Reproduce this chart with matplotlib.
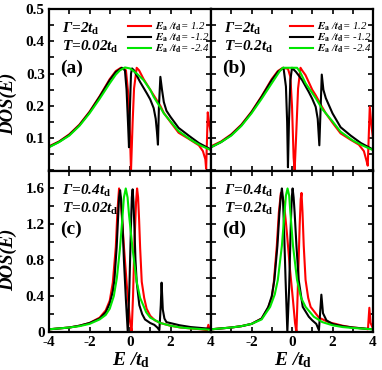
import matplotlib
matplotlib.use("Agg")
import matplotlib.pyplot as plt
from matplotlib.ticker import MultipleLocator, FixedLocator, FixedFormatter
from matplotlib.font_manager import FontProperties

plt.rcParams['font.family'] = 'Liberation Serif'
plt.rcParams['font.weight'] = 'bold'
plt.rcParams['mathtext.fontset'] = 'custom'
plt.rcParams['mathtext.it'] = 'Liberation Serif:italic:bold'
plt.rcParams['mathtext.rm'] = 'Liberation Serif:bold'
plt.rcParams['mathtext.bf'] = 'Liberation Serif:bold'
plt.rcParams['axes.unicode_minus'] = False

RED = '#ff0000'
BLACK = '#000000'
GREEN = '#00e600'

legend_labels = [r'$E_{\rm a}$ /$t_{\rm d}$= 1.2', r'$E_{\rm a}$ /$t_{\rm d}$= -1.2', r'$E_{\rm a}$ /$t_{\rm d}$= -2.4']
gamma_labels = [r'Γ=2$t_{\rm d}$', r'Γ=2$t_{\rm d}$', r'Γ=0.4$t_{\rm d}$', r'Γ=0.4$t_{\rm d}$']
temp_labels = [r'T=0.02$t_{\rm d}$', r'T=0.2$t_{\rm d}$', r'T=0.02$t_{\rm d}$', r'T=0.2$t_{\rm d}$']
panel_labels = ['(a)', '(b)', '(c)', '(d)']

# ---- panel (a): Gamma=2, T=0.02 ----
e_a_red = [-4, -3.5, -3, -2.5, -2, -1.5, -1, -0.7, -0.45, -0.3, -0.2, -0.08, 0.0, 0.05, 0.13, 0.2, 0.33,
           0.45, 0.67, 1.0, 1.17, 1.5, 1.67, 2, 2.4, 2.9, 3.4, 3.6, 3.72, 3.76, 3.84, 3.92, 4]
dos_a_red = [0.075, 0.09, 0.112, 0.142, 0.182, 0.23, 0.283, 0.308, 0.318, 0.316, 0.31, 0.233, 0.109, 0.0, 0.15,
             0.254, 0.318, 0.31, 0.283, 0.25, 0.233, 0.2, 0.178, 0.15, 0.117, 0.098, 0.078, 0.06, 0.035, 0.005,
             0.18, 0.14, 0.115]
e_a_black = [-4, -3.5, -3, -2.5, -2, -1.5, -1, -0.7, -0.4, -0.25, -0.17, -0.1, -0.05, 0.0, 0.05, 0.1, 0.2,
             0.5, 0.83, 1.0, 1.17, 1.27, 1.33, 1.38, 1.43, 1.5, 1.58, 1.67, 1.8, 2, 2.4, 2.9, 3.4, 4]
dos_a_black = [0.073, 0.089, 0.11, 0.14, 0.18, 0.228, 0.28, 0.305, 0.318, 0.31, 0.25, 0.15, 0.072, 0.2, 0.3,
               0.316, 0.31, 0.274, 0.239, 0.22, 0.193, 0.16, 0.12, 0.08, 0.2, 0.29, 0.25, 0.212, 0.185, 0.166,
               0.132, 0.108, 0.085, 0.065]
e_a_green = [-4, -3.5, -3, -2.5, -2, -1.5, -1, -0.7, -0.5, -0.25, 0, 0.3, 0.67, 1.0, 1.17, 1.5, 1.67, 2,
             2.4, 3, 3.5, 4]
dos_a_green = [0.072, 0.088, 0.108, 0.138, 0.177, 0.222, 0.27, 0.297, 0.31, 0.319, 0.316, 0.302, 0.28, 0.25,
               0.228, 0.195, 0.177, 0.152, 0.122, 0.095, 0.077, 0.063]

# ---- panel (b): Gamma=2, T=0.2 ----
e_b_red = [-4, -3.5, -3, -2.5, -2, -1.5, -1, -0.7, -0.45, -0.2, -0.08, 0.0, 0.08, 0.13, 0.2, 0.3, 0.42, 0.5,
           0.67, 1.0, 1.17, 1.5, 1.67, 2, 2.4, 2.9, 3.3, 3.55, 3.68, 3.74, 3.84, 3.92, 4]
dos_b_red = [0.075, 0.09, 0.112, 0.142, 0.182, 0.23, 0.283, 0.308, 0.318, 0.315, 0.29, 0.2, 0.04, 0.0, 0.1,
             0.254, 0.318, 0.31, 0.295, 0.25, 0.233, 0.195, 0.177, 0.148, 0.115, 0.095, 0.08, 0.06, 0.03, 0.015,
             0.197, 0.14, 0.1]
e_b_black = [-4, -3.5, -3, -2.5, -2, -1.5, -1, -0.7, -0.42, -0.3, -0.24, -0.2, -0.15, -0.08, 0.0, 0.2, 0.5,
             0.83, 1.0, 1.17, 1.27, 1.35, 1.47, 1.55, 1.67, 2, 2.4, 2.9, 3.4, 4]
dos_b_black = [0.072, 0.088, 0.11, 0.14, 0.18, 0.228, 0.28, 0.305, 0.318, 0.26, 0.15, 0.01, 0.15, 0.28, 0.318,
               0.305, 0.28, 0.243, 0.222, 0.197, 0.16, 0.078, 0.297, 0.25, 0.224, 0.177, 0.134, 0.108, 0.085,
               0.065]
e_b_green = [-4, -3.5, -3, -2.5, -2, -1.5, -1, -0.6, -0.45, 0.25, 0.4, 0.67, 1.0, 1.17, 1.5, 1.67, 2, 2.4, 3,
             3.5, 4]
dos_b_green = [0.072, 0.088, 0.108, 0.138, 0.177, 0.222, 0.27, 0.308, 0.318, 0.318, 0.305, 0.27, 0.24, 0.224,
               0.19, 0.177, 0.152, 0.12, 0.093, 0.077, 0.063]

# ---- panel (c): Gamma=0.4, T=0.02 ----
e_c_red = [-4, -3, -2.5, -2, -1.5, -1.2, -1.0, -0.85, -0.7, -0.62, -0.54, -0.45, -0.3, -0.15, 0.0, 0.08, 0.15,
           0.22, 0.3, 0.35, 0.4, 0.45, 0.5, 0.58, 0.7, 0.82, 1.0, 1.23, 1.5, 2, 2.5, 3, 3.5, 3.8, 3.87, 3.93, 4]
dos_c_red = [0.03, 0.05, 0.07, 0.1, 0.16, 0.24, 0.35, 0.55, 0.95, 1.35, 1.6, 1.45, 0.95, 0.5, 0.12, 0.0, 0.4,
             1.0, 1.45, 1.6, 1.5, 1.25, 0.94, 0.56, 0.38, 0.26, 0.18, 0.13, 0.1, 0.07, 0.05, 0.04, 0.03, 0.02,
             0.08, 0.03, 0.02]
e_c_black = [-4, -3, -2.5, -2, -1.5, -1.2, -1.0, -0.85, -0.77, -0.66, -0.58, -0.54, -0.49, -0.44, -0.37, -0.3,
             -0.2, -0.11, -0.03, 0.05, 0.09, 0.13, 0.17, 0.22, 0.27, 0.33, 0.46, 0.6, 0.74, 1.0, 1.2, 1.35, 1.45,
             1.52, 1.56, 1.62, 1.7, 1.8, 2.45, 3, 3.5, 4]
dos_c_black = [0.03, 0.05, 0.07, 0.1, 0.15, 0.22, 0.32, 0.45, 0.58, 0.94, 1.31, 1.5, 1.58, 1.48, 1.2, 0.8,
               0.35, 0.0, 0.5, 1.2, 1.5, 1.59, 1.45, 1.15, 0.8, 0.56, 0.3, 0.2, 0.14, 0.1, 0.08, 0.05, 0.02, 0.3,
               0.55, 0.25, 0.15, 0.11, 0.075, 0.055, 0.045, 0.035]
e_c_green = [-4, -3, -2.5, -2, -1.5, -1.2, -1.0, -0.8, -0.65, -0.5, -0.4, -0.3, -0.21, -0.12, -0.05, 0.12,
             0.33, 0.5, 0.8, 1.0, 1.5, 2, 2.5, 3, 4]
dos_c_green = [0.03, 0.05, 0.065, 0.09, 0.14, 0.19, 0.26, 0.4, 0.6, 0.92, 1.2, 1.5, 1.6, 1.5, 1.31, 0.94,
               0.56, 0.38, 0.22, 0.16, 0.1, 0.07, 0.05, 0.04, 0.025]

# ---- panel (d): Gamma=0.4, T=0.2 ----
e_d_red = [-4, -3, -2.5, -2, -1.5, -1.2, -1.0, -0.9, -0.75, -0.65, -0.55, -0.4, -0.25, -0.1, 0.05, 0.15, 0.22,
           0.3, 0.38, 0.43, 0.47, 0.52, 0.58, 0.67, 0.8, 0.92, 1.33, 1.8, 2.5, 3, 3.5, 3.75, 3.82, 3.88, 4]
dos_d_red = [0.03, 0.05, 0.065, 0.09, 0.15, 0.26, 0.38, 0.55, 0.96, 1.33, 1.55, 1.45, 1.1, 0.7, 0.35, 0.1,
             0.0, 0.58, 1.2, 1.48, 1.55, 1.33, 0.96, 0.58, 0.38, 0.28, 0.16, 0.11, 0.07, 0.05, 0.04, 0.03, 0.27,
             0.1, 0.04]
e_d_black = [-4, -3, -2.5, -2, -1.5, -1.17, -1.0, -0.87, -0.72, -0.62, -0.55, -0.5, -0.45, -0.4, -0.32, -0.23,
             -0.14, -0.06, -0.01, 0.03, 0.08, 0.13, 0.22, 0.33, 0.53, 0.83, 1.0, 1.2, 1.33, 1.4, 1.45, 1.53, 1.7,
             2, 2.5, 3, 3.5, 4]
dos_d_black = [0.03, 0.05, 0.065, 0.09, 0.15, 0.28, 0.4, 0.58, 0.96, 1.33, 1.52, 1.6, 1.5, 1.2, 0.6, 0.0, 0.5,
               1.2, 1.5, 1.6, 1.5, 1.33, 0.96, 0.58, 0.28, 0.17, 0.13, 0.09, 0.02, 0.25, 0.416, 0.21, 0.13, 0.09,
               0.065, 0.05, 0.04, 0.03]
e_d_green = [-4, -3, -2.5, -2, -1.5, -1.08, -0.85, -0.7, -0.5, -0.37, -0.3, -0.22, -0.14, -0.08, 0.05, 0.25,
             0.45, 0.67, 1.08, 1.5, 2, 2.5, 3, 4]
dos_d_green = [0.03, 0.05, 0.065, 0.09, 0.14, 0.28, 0.42, 0.58, 0.96, 1.33, 1.52, 1.6, 1.52, 1.33, 0.96, 0.58,
               0.38, 0.28, 0.17, 0.11, 0.075, 0.055, 0.045, 0.03]

curves = [
    [(e_a_red, dos_a_red), (e_a_black, dos_a_black), (e_a_green, dos_a_green)],
    [(e_b_red, dos_b_red), (e_b_black, dos_b_black), (e_b_green, dos_b_green)],
    [(e_c_red, dos_c_red), (e_c_black, dos_c_black), (e_c_green, dos_c_green)],
    [(e_d_red, dos_d_red), (e_d_black, dos_d_black), (e_d_green, dos_d_green)],
]
colors = [RED, BLACK, GREEN]

fig, axes = plt.subplots(2, 2, figsize=(3.82, 3.70), dpi=100)
fig.subplots_adjust(left=49 / 382, right=373 / 382, top=1 - 9 / 370, bottom=1 - 332 / 370,
                    wspace=0, hspace=0)
axes = axes.flatten()

leg_prop = FontProperties(family='Liberation Serif', style='italic', weight='normal', size=7.8,
                          math_fontfamily='stix')
txt_font = dict(fontsize=11, fontstyle='italic', fontweight='bold')

for i, ax in enumerate(axes):
    for (x, y), c in zip(curves[i], colors):
        ax.plot(x, y, color=c, lw=1.5)
    ax.set_xlim(-4, 4)
    ax.xaxis.set_major_locator(MultipleLocator(2))
    ax.xaxis.set_minor_locator(MultipleLocator(1))
    if i < 2:
        ax.set_ylim(0, 0.5)
        ax.yaxis.set_major_locator(MultipleLocator(0.1))
        ax.yaxis.set_minor_locator(MultipleLocator(0.05))
    else:
        ax.set_ylim(0, 1.8)
        ax.yaxis.set_major_locator(FixedLocator([0, 0.4, 0.8, 1.2, 1.6]))
        ax.yaxis.set_minor_locator(MultipleLocator(0.2))
    ax.tick_params(which='both', direction='in', top=True, right=True, length=3.5, width=1.2,
                   labelsize=11, pad=3)
    for s in ax.spines.values():
        s.set_linewidth(1.6)

    ax.text(0.08, 0.85, gamma_labels[i], transform=ax.transAxes, **txt_font)
    ax.text(0.08, 0.74, temp_labels[i], transform=ax.transAxes, **txt_font)
    ax.text(0.07, 0.605, panel_labels[i], transform=ax.transAxes, fontsize=14, fontweight='bold')

    if i < 2:
        ax.legend(legend_labels, loc='upper right', bbox_to_anchor=(1.03, 0.97), frameon=False,
                  prop=leg_prop, handlelength=2.1, handletextpad=0.35, labelspacing=-0.12,
                  borderaxespad=0.2)
        ax.set_xticklabels([])
    if i % 2 == 1:
        ax.set_yticklabels([])

axes[0].yaxis.set_major_locator(FixedLocator([0.1, 0.2, 0.3, 0.4, 0.5]))
axes[0].yaxis.set_major_formatter(FixedFormatter(['0.1', '0.2', '0.3', '0.4', '0.5']))
axes[2].yaxis.set_major_formatter(FixedFormatter(['0', '0.4', '0.8', '1.2', '1.6']))
axes[2].xaxis.set_major_locator(FixedLocator([-4, -2, 0, 2, 4]))
axes[2].xaxis.set_major_formatter(FixedFormatter(['-4', '-2', '0', '2', '4']))
axes[3].xaxis.set_major_locator(FixedLocator([-4, -2, 0, 2, 4]))
axes[3].xaxis.set_major_formatter(FixedFormatter(['', '-2', '0', '2', '4']))
for ax in axes:
    for lab in ax.get_xticklabels() + ax.get_yticklabels():
        lab.set_fontweight('bold')

for ax, yc in [(axes[0], 0.416), (axes[2], 0.45)]:
    ax.set_ylabel('DOS(E)', fontsize=13.5, fontstyle='italic', fontweight='bold')
    ax.yaxis.set_label_coords(-0.195, yc)
for ax in axes[2:]:
    ax.set_xlabel(r'E /$t_{\rm d}$', fontsize=14, fontstyle='italic', fontweight='bold')
    ax.xaxis.set_label_coords(0.51, -0.115)

fig.savefig('out.png', dpi=100)
